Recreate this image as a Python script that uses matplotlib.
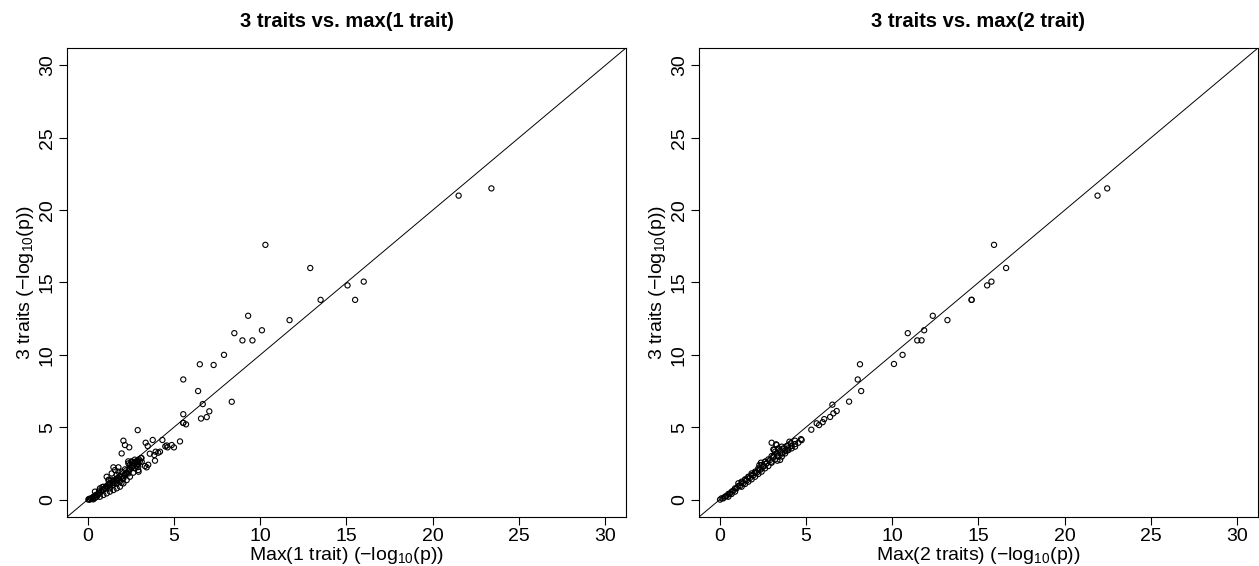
import matplotlib
matplotlib.use('Agg')
import matplotlib.pyplot as plt

plt.rcParams['font.family'] = ['Liberation Sans', 'DejaVu Sans']
plt.rcParams['mathtext.fontset'] = 'custom'
plt.rcParams['mathtext.rm'] = 'Liberation Sans'
plt.rcParams['mathtext.it'] = 'Liberation Sans'

# left panel: max(1 trait) vs 3 traits (-log10 p)
x1 = [0.04, 0.19, 0.33, 0.46, 0.62, 0.77, 0.91, 1.04, 1.16, 1.29, 1.43, 1.54, 1.68, 1.81,
      1.97, 2.12, 2.26, 2.39, 2.55, 2.70, 2.84, 2.97, 3.09, 3.13, 2.93, 1.10, 1.29, 1.49,
      1.68, 1.87, 2.07, 2.26, 2.45, 2.64, 1.20, 1.10, 1.39, 1.58, 1.78, 1.68, 1.97, 2.16,
      2.36, 2.55, 1.49, 1.78, 1.20, 0.91, 0.71, 0.42, 0.52, 0.71, 0.91, 0.33, 0.13, 1.29,
      1.49, 1.68, 1.87, 2.07, 2.36, 2.74, 2.84, 2.90, 0.08, 0.22, 0.31, 0.41, 0.50, 0.60,
      0.70, 0.79, 0.89, 0.66, 0.99, 1.08, 0.85, 1.18, 1.28, 1.38, 1.24, 1.47, 1.57, 1.67,
      1.76, 1.86, 1.96, 2.05, 2.15, 2.25, 2.35, 2.44, 2.54, 2.64, 2.73, 2.83, 3.02, 2.93,
      3.12, 2.54, 2.64, 2.73, 2.35, 2.44,
      2.07, 2.16, 2.41, 1.97, 3.36, 3.48, 3.77, 4.33, 3.86, 3.94, 4.09, 3.90, 3.42, 3.32,
      3.51, 2.93, 4.58, 4.87, 5.00, 4.63, 4.19, 2.95, 3.60, 4.50, 5.35, 2.90,
      5.54, 5.70, 5.54, 5.54, 6.57, 6.90, 7.05, 8.35, 6.67, 6.40, 5.54, 6.50, 7.30, 7.90,
      8.97, 9.55, 8.50, 10.10, 9.30, 11.70, 13.50, 15.50, 15.06, 16.00, 12.90, 10.30,
      21.50, 23.40]
y1 = [0.00, 0.09, 0.20, 0.32, 0.43, 0.55, 0.66, 0.78, 0.89, 1.01, 1.12, 1.24, 1.35, 1.47,
      1.58, 1.70, 1.86, 2.04, 2.27, 2.50, 2.66, 2.78, 2.87, 2.62, 2.46, 0.43, 0.55, 0.66,
      0.78, 0.89, 1.12, 1.35, 1.58, 1.86, 1.35, 1.58, 1.81, 2.04, 2.23, 1.70, 1.93, 2.09,
      2.50, 2.62, 2.23, 1.93, 1.01, 0.89, 0.78, 0.55, 0.20, 0.20, 0.32, 0.02, 0.00, 0.78,
      1.01, 1.12, 1.24, 1.47, 1.81, 2.16, 2.32, 2.50, 0.05, 0.07, 0.07, 0.11, 0.18, 0.34,
      0.46, 0.57, 0.69, 0.62, 0.80, 0.92, 0.87, 1.03, 1.15, 1.38, 1.38, 1.26, 1.15, 1.38,
      1.49, 1.38, 1.15, 1.49, 1.72, 1.84, 1.95, 2.07, 2.18, 2.34, 2.53, 2.64, 2.64, 2.25,
      2.87, 2.64, 2.53, 2.76, 2.64, 2.41,
      4.07, 3.77, 3.61, 3.19, 3.93, 3.70, 4.12, 4.12, 3.08, 3.31, 3.24, 2.69, 2.23, 2.32,
      2.41, 2.04, 3.74, 3.77, 3.61, 3.61, 3.31, 1.93, 3.17, 3.68, 4.02, 4.80,
      5.30, 5.20, 5.90, 8.30, 5.60, 5.70, 6.10, 6.76, 6.60, 7.50, 5.30, 9.35, 9.30, 10.00,
      11.00, 11.00, 11.50, 11.70, 12.70, 12.40, 13.80, 13.80, 14.80, 15.06, 16.00, 17.60,
      21.00, 21.50]

# right panel: max(2 traits) vs 3 traits (-log10 p)
x2 = [0.02, 0.21, 0.40, 0.60, 0.79, 0.98, 1.18, 1.37, 1.56, 1.76, 1.95, 2.15, 2.34, 2.53,
      2.72, 2.92, 3.11, 3.30, 3.50, 3.69, 3.88, 4.13, 4.37, 4.75, 1.08, 1.27, 1.47, 1.66,
      1.85, 2.05, 2.24, 2.43, 2.63, 2.82, 3.01, 3.21, 3.40, 3.60, 3.98, 3.79, 3.60, 3.27,
      3.11, 0.69, 0.89, 0.50, 1.27, 1.47, 1.66, 1.85, 2.05, 2.24, 2.43, 2.63, 2.82, 3.01,
      3.21, 3.40, 3.60, 3.79, 3.98, 4.17, 4.37, 4.56, 0.11, 0.31, 0.50, 0.69, 0.89, 1.08,
      1.27, 1.47, 1.66, 1.85, 2.05, 2.24, 2.43, 2.53, 2.72, 3.00, 3.50, 3.34, 3.15, 3.30,
      3.65, 3.88, 4.37, 4.17, 3.98, 4.04, 2.39, 2.63, 2.30, 3.11, 3.34, 3.01,
      4.71, 5.31, 5.62, 5.76, 5.97, 6.06, 6.40, 6.59, 6.78, 6.53, 7.50, 8.20, 8.00, 8.13,
      10.10, 10.60, 11.45, 11.70, 10.90, 11.85, 13.20, 12.35, 14.60, 14.60, 15.50, 15.75,
      16.60, 15.90, 21.90, 22.46]
y2 = [0.00, 0.09, 0.25, 0.43, 0.62, 0.78, 0.94, 1.13, 1.31, 1.50, 1.68, 1.86, 2.05, 2.28,
      2.51, 2.74, 2.97, 3.19, 3.38, 3.54, 3.70, 3.88, 4.07, 4.11, 1.13, 1.24, 1.40, 1.58,
      1.81, 1.93, 2.16, 2.39, 2.62, 2.78, 3.01, 3.31, 3.54, 3.66, 3.42, 3.19, 2.97, 3.82,
      3.47, 0.39, 0.55, 0.20, 0.89, 1.08, 1.24, 1.40, 1.58, 1.77, 1.93, 2.16, 2.32, 2.55,
      2.78, 2.97, 3.19, 3.38, 3.54, 3.70, 3.84, 3.93, 0.09, 0.21, 0.39, 0.55, 0.78, 0.94,
      1.17, 1.36, 1.54, 1.70, 1.86, 2.05, 2.16, 2.32, 2.50, 2.62, 2.74, 2.69, 3.43, 3.77,
      3.20, 3.38, 3.66, 3.54, 3.77, 4.00, 2.55, 2.62, 2.39, 2.97, 3.01, 3.93,
      4.18, 4.83, 5.27, 5.15, 5.35, 5.56, 5.71, 5.96, 6.12, 6.56, 6.77, 7.50, 8.30, 9.35,
      9.37, 10.00, 11.00, 11.00, 11.50, 11.70, 12.40, 12.70, 13.80, 13.80, 14.80, 15.06,
      16.00, 17.60, 21.00, 21.50]

ticks = [0, 5, 10, 15, 20, 25, 30]

fig = plt.figure(figsize=(12.59, 5.66), dpi=100)
ax1 = fig.add_axes([0.0532, 0.0866, 0.444, 0.8286])
ax2 = fig.add_axes([0.5552, 0.0866, 0.444, 0.8286])

panels = [(ax1, x1, y1, '3 traits vs. max(1 trait)', 'Max(1 trait)'),
          (ax2, x2, y2, '3 traits vs. max(2 trait)', 'Max(2 traits)')]

for ax, xs, ys, title, xname in panels:
    ax.plot([-1.2, 31.2], [-1.2, 31.2], color='black', lw=0.7)
    ax.scatter(xs, ys, s=14, facecolors='none', edgecolors='black', linewidths=0.8, zorder=3)
    ax.set_xlim(-1.2, 31.2)
    ax.set_ylim(-1.2, 31.2)
    ax.set_xticks(ticks)
    ax.set_yticks(ticks)
    ax.tick_params(direction='out', length=6, width=0.8, labelsize=14, pad=2)
    for lab in ax.get_yticklabels():
        lab.set_rotation(90)
        lab.set_va('center')
    for sp in ax.spines.values():
        sp.set_linewidth(0.8)
    ax.set_title(title, fontsize=14.5, fontweight='bold', pad=15)
    ax.set_xlabel(xname + r' ($-$log$_{10}$(p))', fontsize=14, labelpad=0)
    ax.set_ylabel(r'3 traits ($-$log$_{10}$(p))', fontsize=14, labelpad=2)

fig.savefig('out.png', dpi=100)
